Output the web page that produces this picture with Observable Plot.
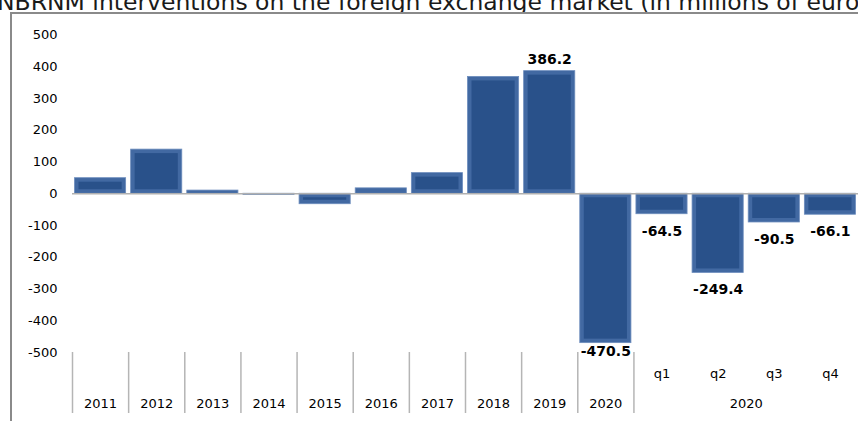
<!DOCTYPE html>
<html><head><meta charset="utf-8">
<script src="https://cdn.jsdelivr.net/npm/d3@7"></script>
<script src="https://cdn.jsdelivr.net/npm/@observablehq/plot@0.6"></script>
<style>
body{margin:0;background:#fff;overflow:hidden;width:858px;height:421px;position:relative;font-family:"DejaVu Sans",sans-serif}
#title{height:12px;overflow:hidden;position:relative}
#title span{position:absolute;left:-3px;top:-12px;font-size:23.5px;white-space:nowrap;color:#1a1a1a}
#border{position:absolute;left:10px;top:12px;right:0;bottom:0;border-left:2px solid #8a8a8a;border-top:2px solid #8a8a8a;pointer-events:none}
#chart svg{display:block}
</style></head>
<body>
<div id="title"><span>NBRNM interventions on the foreign exchange market (in millions of euros)</span></div>
<div id="chart"></div>
<div id="border"></div>
<script>
const years = ["2011","2012","2013","2014","2015","2016","2017","2018","2019","2020"];
const quarters = ["q1","q2","q3","q4"];
const quarterYear = "2020";
const values = [49, 139, 10, -4, -33, 17, 65, 368, 386.2, -470.5, -64.5, -249.4, -90.5, -66.1];
const valueLabels = ["", "", "", "", "", "", "", "", "386.2", "-470.5", "-64.5", "-249.4", "-90.5", "-66.1"];
const yTicks = [-500, -400, -300, -200, -100, 0, 100, 200, 300, 400, 500];

const categories = years.concat(quarters);
const data = categories.map((c, i) => ({i, category: c, value: values[i], label: valueLabels[i]}));
const yMin = yTicks[0], yMax = yTicks[yTicks.length - 1];

const chart = Plot.plot({
  width: 858,
  height: 409,
  marginTop: 22.5,
  marginBottom: 69,
  marginLeft: 72,
  marginRight: 0,
  style: {fontFamily: "DejaVu Sans, sans-serif", fontSize: "13px", color: "#000", background: "#fff"},
  x: {domain: [0, categories.length], axis: null},
  y: {domain: [yMin, yMax], ticks: yTicks, tickFormat: d => String(d), tickSize: 0, tickPadding: 15, label: null},
  marks: [
    Plot.rectY(data, {x1: "i", x2: d => d.i + 1, y1: d => 0, y2: "value", insetLeft: 2.5, insetRight: 2.5, fill: "#4269a2", stroke: "#6d8dbd", strokeWidth: 0.8}),
    Plot.rectY(data.filter(d => Math.abs(d.value) > 30), {x1: "i", x2: d => d.i + 1, y1: d => 0, y2: "value", insetLeft: 6.5, insetRight: 6.5, insetTop: 4, insetBottom: 4, fill: "#29518a"}),
    Plot.ruleY([0], {stroke: "#b0b0b0", strokeWidth: 1.5}),
    Plot.ruleX(d3.range(0, years.length + 1), {x: d => d, y1: d => yMin, y2: d => yMin, insetBottom: -61, stroke: "#b5b5b5", strokeWidth: 1.5}),
    Plot.text(years, {x: (d, i) => i + 0.5, frameAnchor: "bottom", dy: 55, text: d => d, fill: "#000"}),
    Plot.text(quarters, {x: (d, i) => years.length + i + 0.5, frameAnchor: "bottom", dy: 25, text: d => d, fill: "#000"}),
    Plot.text([quarterYear], {x: d => years.length + quarters.length / 2, frameAnchor: "bottom", dy: 55, text: d => d, fill: "#000"}),
    Plot.text(data.filter(d => d.label && d.value > 0), {x: d => d.i + 0.5, y: "value", text: "label", dy: -12, fontWeight: "bold", fontSize: 14, fill: "#000"}),
    Plot.text(data.filter(d => d.label && d.value < 0 && d.i >= years.length), {x: d => d.i + 0.5, y: "value", text: "label", dy: 17, fontWeight: "bold", fontSize: 14, fill: "#000"}),
    Plot.text(data.filter(d => d.label && d.value < 0 && d.i < years.length), {x: d => d.i + 0.5, y: "value", text: "label", dy: 8, fontWeight: "bold", fontSize: 14, fill: "#000"})
  ]
});
document.getElementById("chart").appendChild(chart);
</script>
</body></html>
